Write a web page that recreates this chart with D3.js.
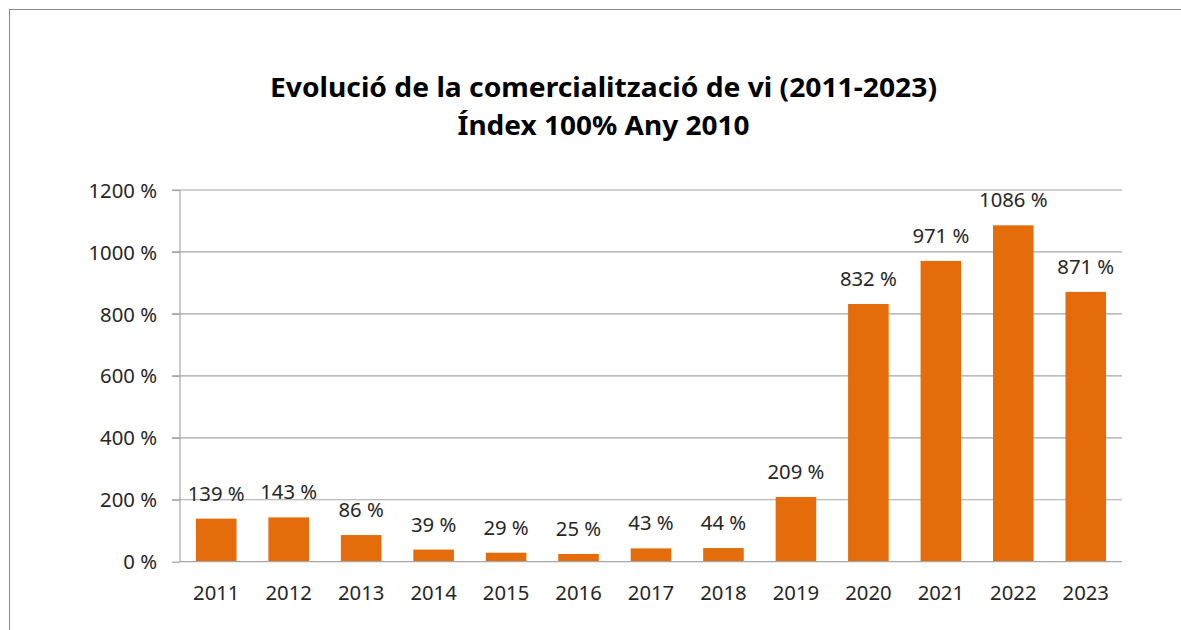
<!DOCTYPE html>
<html>
<head>
<meta charset="utf-8">
<script src="https://cdn.jsdelivr.net/npm/d3@7"></script>
<style>
  html, body { margin: 0; padding: 0; background: #fff; }
  svg { display: block; }
  text { font-family: "Noto Sans", "Open Sans", sans-serif; }
</style>
</head>
<body>
<svg id="chart" width="1181" height="630"></svg>
<script>
const years = ["2011","2012","2013","2014","2015","2016","2017","2018","2019","2020","2021","2022","2023"];
const values = [139, 143, 86, 39, 29, 25, 43, 44, 209, 832, 971, 1086, 871];
const yTicks = [0, 200, 400, 600, 800, 1000, 1200];
const titleLines = ["Evolució de la comercialització de vi (2011-2023)", "Índex 100% Any 2010"];

const svg = d3.select("#chart");
const W = 1181, H = 630;
const m = { left: 180, right: 1122, top: 190, bottom: 561.7 };
const FS = 20.3;

// outer border
svg.append("rect")
  .attr("x", 9.5).attr("y", 9.5)
  .attr("width", W + 10).attr("height", H + 10)
  .attr("fill", "none").attr("stroke", "#8c8c8c").attr("stroke-width", 1);

// title
const title = svg.append("g");
title.append("text").attr("x", 603.5).attr("y", 97)
  .attr("text-anchor", "middle").attr("font-size", 27).attr("font-weight", "bold")
  .attr("fill", "#000")
  .attr("textLength", 667).attr("lengthAdjust", "spacingAndGlyphs")
  .text(titleLines[0]);
title.append("text").attr("x", 603.5).attr("y", 135)
  .attr("text-anchor", "middle").attr("font-size", 27).attr("font-weight", "bold")
  .attr("fill", "#000")
  .attr("textLength", 292).attr("lengthAdjust", "spacingAndGlyphs")
  .text(titleLines[1]);

const x = d3.scaleBand().domain(years).range([m.left, m.right]).paddingInner(0.44).paddingOuter(0.22);
const y = d3.scaleLinear().domain([0, 1200]).range([m.bottom, m.top]);

// gridlines
svg.append("g").selectAll("line").data(yTicks.filter(d => d > 0)).join("line")
  .attr("x1", m.left - 8).attr("x2", m.right)
  .attr("y1", d => y(d)).attr("y2", d => y(d))
  .attr("stroke", "#a6a6a6").attr("stroke-width", 1.2);

// y axis
const yAxis = svg.append("g").attr("transform", `translate(${m.left},0)`)
  .call(d3.axisLeft(y).tickValues(yTicks).tickSize(8).tickPadding(15).tickFormat(d => d + " %"));
yAxis.select(".domain").attr("stroke", "#a6a6a6").attr("stroke-width", 1.2).attr("d", `M0,${m.top}V${m.bottom}`);
yAxis.selectAll(".tick line").attr("stroke", "#a6a6a6").attr("stroke-width", 1.2);
yAxis.selectAll(".tick text").attr("font-size", FS).attr("fill", "#262626")
  .attr("font-family", "Noto Sans").attr("dy", "0.35em");

// bars
svg.append("g").selectAll("rect").data(values).join("rect")
  .attr("x", (d, i) => x(years[i]))
  .attr("width", x.bandwidth())
  .attr("y", d => y(d))
  .attr("height", d => y(0) - y(d))
  .attr("fill", "#e46c0a");

// x axis
const xAxis = svg.append("g").attr("transform", `translate(0,${m.bottom})`)
  .call(d3.axisBottom(x).tickSize(0).tickPadding(24));
xAxis.select(".domain").attr("stroke", "#a6a6a6").attr("stroke-width", 1.2).attr("d", `M${m.left},0H${m.right}`);
xAxis.selectAll(".tick text").attr("font-size", FS).attr("fill", "#262626")
  .attr("font-family", "Noto Sans").attr("dy", "0.71em");

// value labels
svg.append("g").selectAll("text").data(values).join("text")
  .attr("x", (d, i) => x(years[i]) + x.bandwidth() / 2)
  .attr("y", d => y(d) - 18)
  .attr("text-anchor", "middle")
  .attr("font-size", FS).attr("fill", "#262626")
  .text(d => d + " %");
</script>
</body>
</html>
